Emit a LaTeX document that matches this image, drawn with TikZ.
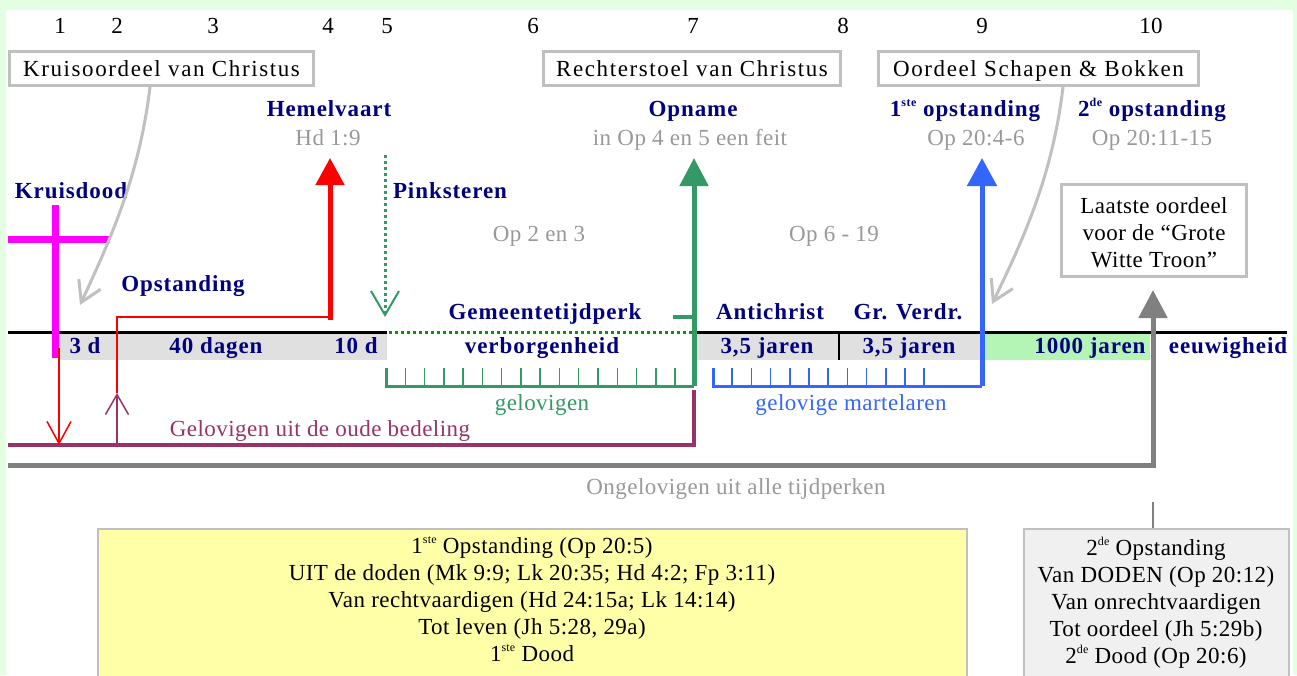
\documentclass[tikz,border=0pt]{standalone}
\usepackage{fontspec}
\setmainfont{Liberation Serif}
\newfontfamily\rsp{Liberation Serif}[LetterSpace=2]
\newfontfamily\hsp{Liberation Serif}[LetterSpace=7]
\newfontfamily\bsp{Liberation Serif}[LetterSpace=4]
\usetikzlibrary{arrows.meta}
\definecolor{navy}{HTML}{000080}
\definecolor{boxgray}{HTML}{C0C0C0}
\definecolor{reftext}{HTML}{999999}
\definecolor{gcol}{HTML}{339966}
\definecolor{bcol}{HTML}{3366FF}
\definecolor{maroon}{HTML}{993366}
\definecolor{ggray}{HTML}{808080}
\definecolor{bandgray}{HTML}{E0E0E0}
\definecolor{millgreen}{HTML}{B4F4B4}
\definecolor{yfill}{HTML}{FFFFA8}
\definecolor{lgfill}{HTML}{F0F0F0}
\definecolor{bggreen}{HTML}{E2FFE2}
\definecolor{dotgreen}{HTML}{009900}
\definecolor{crosscol}{HTML}{FF00FF}
\definecolor{redcol}{HTML}{FF0000}
\newcommand\mysup[1]{\raisebox{0.42em}{\fontsize{12}{12}\selectfont #1}}
\begin{document}
\begin{tikzpicture}[x=1pt,y=-1pt,
  num/.style={font=\rsp\fontsize{23}{27}\selectfont, anchor=base, inner sep=0pt},
  bl/.style={font=\bsp\bfseries\fontsize{23}{27}\selectfont, text=navy, anchor=base, inner sep=0pt},
  gr/.style={font=\rsp\fontsize{23}{27}\selectfont, text=reftext, anchor=base, inner sep=0pt},
  tx/.style={font=\rsp\fontsize{23}{27}\selectfont, anchor=base, inner sep=0pt},
  hbox/.style={draw=boxgray, line width=3pt, fill=white, font=\hsp\fontsize{23}{27}\selectfont, inner sep=0pt, text height=16pt, text depth=0pt},
  bigtip/.style={-{Triangle[length=27pt,width=28pt]}},
  barb/.style={-{Straight Barb[length=20pt,width=24pt]}},
]
\useasboundingbox (0,0) rectangle (1297,675);
\clip (0,0) rectangle (1297,675);
\fill[bggreen] (0,0) rectangle (1297,675);
\fill[white] (6,10) rectangle (1293,680);

% numbers
\node[num] (n1) at (60,33) {1};
\node[num] (n2) at (117,33) {2};
\node[num] (n3) at (213,33) {3};
\node[num] (n4) at (328,33) {4};
\node[num] (n5) at (387,33) {5};
\node[num] (n6) at (533,33) {6};
\node[num] (n7) at (693,33) {7};
\node[num] (n8) at (843,33) {8};
\node[num] (n9) at (982,33) {9};
\node[num] (n10) at (1151,33) {10};

% header boxes
\node[hbox, minimum width=304pt, minimum height=34pt] (kruis) at (161.5,68.5) {Kruisoordeel van Christus};
\node[hbox, minimum width=297pt, minimum height=34pt] (recht) at (692,68.5) {Rechterstoel van Christus};
\node[hbox, minimum width=320pt, minimum height=34pt] (schaap) at (1038.5,68.5) {Oordeel Schapen \& Bokken};

% labels
\node[bl] (hemel) at (329,116) {Hemelvaart};
\node[gr] (hd) at (328,145) {Hd 1:9};
\node[bl] (opname) at (693,116) {Opname};
\node[gr] (op45) at (690,145) {in Op 4 en 5 een feit};
\node[bl] (eerste) at (965,116) {1\mysup{ste} opstanding};
\node[gr] (op204) at (976,145) {Op 20:4-6};
\node[bl] (tweede) at (1152,116) {2\mysup{de} opstanding};
\node[gr] (op2011) at (1152,145) {Op 20:11-15};
\node[bl] (kdood) at (71,198) {Kruisdood};
\node[bl] (pinkst) at (450,198) {Pinksteren};
\node[gr] (op23) at (539,241) {Op 2 en 3};
\node[gr] (op619) at (834,241) {Op 6 - 19};
\node[bl] (opst) at (183,291) {Opstanding};
\node[bl] (gemeente) at (545,319) {Gemeentetijdperk};
\node[bl] (anti) at (770,319) {Antichrist};
\node[bl] (grv) at (908,319) {Gr. Verdr.};

% Laatste oordeel box
\node[draw=boxgray, line width=3pt, fill=white, minimum width=185pt, minimum height=92pt, inner sep=0pt] (laatste) at (1154,230.5) {};
\node[tx] (la1) at (1154,213) {Laatste oordeel};
\node[tx] (la2) at (1154,240) {voor de “Grote};
\node[tx] (la3) at (1154,267) {Witte Troon”};

% bands
\fill[bandgray] (58,334) rectangle (387,360);
\fill[bandgray] (695,334) rectangle (985,360);
\fill[millgreen] (985,334) rectangle (1150,360);
\draw[line width=2pt] (839,334) -- (839,360);

% timeline
\draw[line width=3pt] (8,332) -- (387,332);
\draw[dotgreen, line width=3pt, dash pattern=on 3pt off 3pt] (389,332) -- (692,332);
\draw[line width=3pt] (695,332) -- (1287,332);

% band labels
\node[bl] (d3) at (85,353) {3 d};
\node[bl] (d40) at (216,353) {40 dagen};
\node[bl] (d10) at (356,353) {10 d};
\node[bl] (verb) at (542,353) {verborgenheid};
\node[bl] (j1) at (767,353) {3,5 jaren};
\node[bl] (j2) at (909,353) {3,5 jaren};
\node[bl] (j1000) at (1090,353) {1000 jaren};
\node[bl] (eeuw) at (1228,353) {eeuwigheid};

% cross
\draw[crosscol, line width=7pt] (55.5,205) -- (55.5,358);
\draw[crosscol, line width=7pt] (8,239) -- (110,239);

% coordinates
\coordinate (kt) at (80,305);
\coordinate (st) at (992,304);
\coordinate (crossfoot) at (59,348);
\coordinate (oudeL) at (8,445);
\coordinate (oudeR) at (694,445);
\coordinate (riseb) at (117,445);
\coordinate (riset) at (117,393);
\coordinate (redturn) at (117,317);
\coordinate (redcorner) at (330,317);
\coordinate (hemeltip) at (330,158);
\coordinate (pinktop) at (385,155);
\coordinate (pinktip) at (385,317);
\coordinate (gcombL) at (386,368);
\coordinate (gcombR) at (694,386);
\coordinate (opntip) at (694,158);
\coordinate (bcombL) at (713,368);
\coordinate (bcombR) at (982,386);
\coordinate (optip) at (982,158);
\coordinate (ongL) at (8,465);
\coordinate (ongR) at (1153,465);
\coordinate (ongtip) at (1153,290);

% gray curved pointers
\draw[boxgray, line width=3pt, barb] ([xshift=-11.5pt]kruis.south) .. controls (140,170) and (115,230) .. (kt);
\draw[boxgray, line width=3pt, barb] ([xshift=24.5pt]schaap.south) .. controls (1053,170) and (1028,230) .. (st);

% oude bedeling
\draw[maroon, line width=4pt] (oudeL) -- (oudeR) -- (694,390);
\draw[redcol, line width=1.5pt, -{Straight Barb[length=22pt,width=24pt]}] (crossfoot) -- (59,445);
\draw[maroon, line width=1.5pt, -{Straight Barb[length=20pt,width=23pt]}] (riseb) -- (riset);
\draw[redcol, line width=1.5pt] (riset) -- (redturn) -- (redcorner);
\draw[redcol, line width=5pt, bigtip] (330,319.5) -- (hemeltip);

% pinksteren
\draw[gcol, line width=3pt, dash pattern=on 3pt off 3pt, -{Straight Barb[length=24pt,width=28pt,line width=2pt]}] (pinktop) -- (pinktip);

% green comb
\draw[gcol, line width=3pt] (gcombL) -- (386,386) -- (gcombR);
\foreach \i in {1,...,15} \draw[gcol, line width=1.5pt] (386+19.27*\i,368) -- (386+19.27*\i,386);
\draw[gcol, line width=5pt, -{Triangle[length=28pt,width=28pt]}] (gcombR) -- (opntip);
\draw[gcol, line width=4pt] (673,317) -- (694,317);

% blue comb
\draw[bcol, line width=3pt] (bcombL) -- (713,386) -- (bcombR);
\foreach \i in {1,...,11} \draw[bcol, line width=1.5pt] (713+19.2*\i,368) -- (713+19.2*\i,386);
\draw[bcol, line width=5pt, -{Triangle[length=28pt,width=29pt]}] (bcombR) -- (optip);

% ongelovigen
\draw[ggray, line width=5pt, -{Triangle[length=28pt,width=28pt]}] (ongL) -- (ongR) -- (ongtip);

\node[tx, text=gcol] (gel) at (542,410) {gelovigen};
\node[tx, text=bcol] (mart) at (851,410) {gelovige martelaren};
\node[tx, text=maroon] (oude) at (320,436) {Gelovigen uit de oude bedeling};
\node[gr] (ongel) at (736,494) {Ongelovigen uit alle tijdperken};

% bottom boxes
\node[draw=boxgray, line width=2pt, fill=yfill, minimum width=869pt, minimum height=170pt, anchor=north, inner sep=0pt] (yb) at (532.5,528) {};
\node[tx] (y1) at (532,553) {1\mysup{ste} Opstanding (Op 20:5)};
\node[tx] (y2) at (532,580) {UIT de doden (Mk 9:9; Lk 20:35; Hd 4:2; Fp 3:11)};
\node[tx] (y3) at (532,607) {Van rechtvaardigen (Hd 24:15a; Lk 14:14)};
\node[tx] (y4) at (532,634) {Tot leven (Jh 5:28, 29a)};
\node[tx] (y5) at (532,661) {1\mysup{ste} Dood};

\node[draw=boxgray, line width=2pt, fill=lgfill, minimum width=265pt, minimum height=170pt, anchor=north, inner sep=0pt] (gb) at (1156.5,528) {};
\coordinate (gbtop) at (1153,502);
\draw[ggray, line width=1.5pt] (gbtop) -- (gbtop |- gb.north);
\node[tx] (g1) at (1156,555) {2\mysup{de} Opstanding};
\node[tx] (g2) at (1156,582) {Van DODEN (Op 20:12)};
\node[tx] (g3) at (1156,609) {Van onrechtvaardigen};
\node[tx] (g4) at (1156,636) {Tot oordeel (Jh 5:29b)};
\node[tx] (g5) at (1156,663) {2\mysup{de} Dood (Op 20:6)};
\end{tikzpicture}
\end{document}
